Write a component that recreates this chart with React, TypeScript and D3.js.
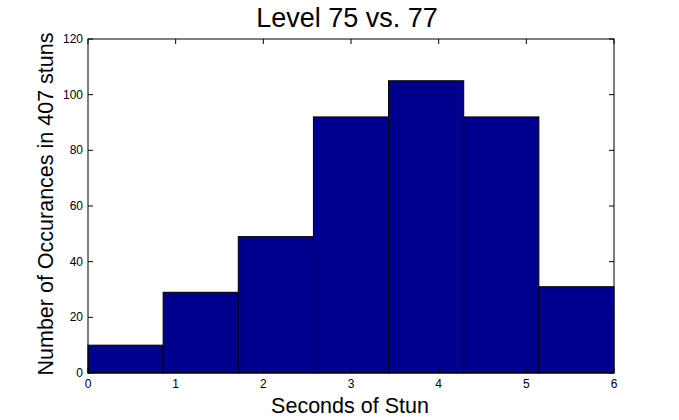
import React from "react";
import * as d3 from "d3";

const binCounts = [10, 29, 49, 92, 105, 92, 31];
const xTicks = [0, 1, 2, 3, 4, 5, 6];
const yTicks = [0, 20, 40, 60, 80, 100, 120];
const titleText = "Level 75 vs. 77";
const xLabel = "Seconds of Stun";
const yLabel = "Number of Occurances in 407 stuns";

const W = 679;
const H = 420;
const M = { left: 88, right: 614, top: 39, bottom: 373 };

export default function App() {
  const x = d3.scaleLinear().domain([0, 6]).range([M.left, M.right]);
  const y = d3.scaleLinear().domain([0, 120]).range([M.bottom, M.top]);
  const bw = 6 / binCounts.length;
  const font = "'Liberation Sans', Arial, sans-serif";
  const tl = 5;
  return (
    <svg width={W} height={H} style={{ position: "absolute", left: 0, top: 0, background: "#fff" }} fontFamily={font}>
      <rect x={0} y={0} width={W} height={H} fill="#fff" />
      {binCounts.map((c, i) => (
        <rect
          key={i}
          x={x(i * bw)}
          y={y(c)}
          width={x((i + 1) * bw) - x(i * bw)}
          height={y(0) - y(c)}
          fill="#00008F"
          stroke="#000"
          strokeWidth={1}
        />
      ))}
      <rect x={M.left} y={M.top} width={M.right - M.left} height={M.bottom - M.top} fill="none" stroke="#000" strokeWidth={1} />
      {xTicks.map((t) => (
        <g key={"x" + t}>
          <line x1={x(t)} x2={x(t)} y1={M.bottom} y2={M.bottom - tl} stroke="#000" />
          <line x1={x(t)} x2={x(t)} y1={M.top} y2={M.top + tl} stroke="#000" />
          <text x={x(t)} y={388} fontSize={12} textAnchor="middle">{t}</text>
        </g>
      ))}
      {yTicks.map((t) => (
        <g key={"y" + t}>
          <line x1={M.left} x2={M.left + tl} y1={y(t)} y2={y(t)} stroke="#000" />
          <line x1={M.right} x2={M.right - tl} y1={y(t)} y2={y(t)} stroke="#000" />
          <text x={83} y={y(t) + 4} fontSize={12} textAnchor="end">{t}</text>
        </g>
      ))}
      <text x={347} y={27} fontSize={27} textAnchor="middle">{titleText}</text>
      <text x={350} y={413} fontSize={21.5} textAnchor="middle">{xLabel}</text>
      <text transform={`translate(53,204) rotate(-90)`} fontSize={21.5} textAnchor="middle">{yLabel}</text>
    </svg>
  );
}
